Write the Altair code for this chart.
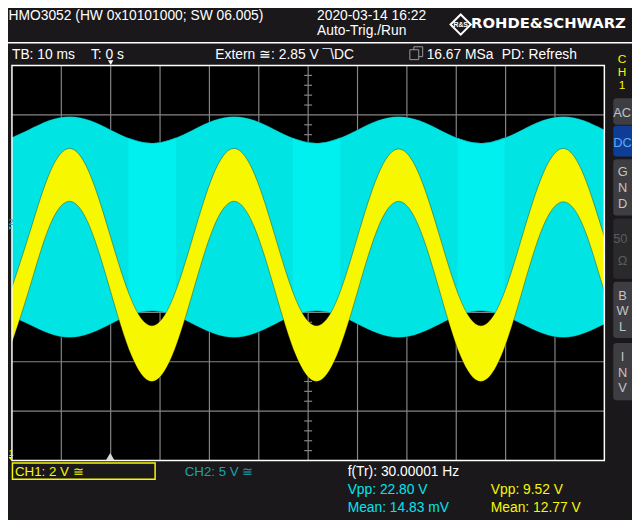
import altair as alt
import pandas as pd

# ---------------- data ----------------
# time in ms (trigger at 0 ms, 10 ms/div, screen spans -20 ... 100 ms)
t_ms = [-20.83, -16.67, -12.5, -8.33, -4.17, 0.0, 4.17, 8.33, 12.5, 16.67,
        20.83, 25.0, 29.17, 33.33, 37.5, 41.67, 45.83, 50.0, 54.17, 58.33,
        62.5, 66.67, 70.83, 75.0, 79.17, 83.33, 87.5, 91.67, 95.83, 100.0, 104.17]
# CH1 (yellow, 2 V/div) band edges, divisions from screen centre
ch1_top = [-0.74, 0.53, 1.79, 2.32, 1.79, 0.52, -0.74, -1.27,
           -0.74, 0.53, 1.80, 2.32, 1.79, 0.53, -0.74, -1.27,
           -0.75, 0.53, 1.79, 2.31, 1.79, 0.53, -0.74, -1.27,
           -0.74, 0.53, 1.79, 2.32, 1.78, 0.53, -0.74]
ch1_bot = [-1.87, -0.58, 0.72, 1.25, 0.72, -0.58, -1.87, -2.40,
           -1.87, -0.58, 0.72, 1.25, 0.71, -0.58, -1.87, -2.40,
           -1.87, -0.58, 0.72, 1.25, 0.72, -0.58, -1.88, -2.40,
           -1.87, -0.58, 0.72, 1.24, 0.72, -0.58, -1.87]
# CH2 (cyan, 5 V/div) envelope
ch2_top = [2.51, 2.70, 2.89, 2.97, 2.89, 2.70, 2.51, 2.43,
           2.51, 2.70, 2.89, 2.97, 2.89, 2.70, 2.51, 2.43,
           2.51, 2.70, 2.89, 2.97, 2.89, 2.70, 2.51, 2.43,
           2.51, 2.70, 2.89, 2.97, 2.89, 2.70, 2.51]
ch2_bot = [-1.05, -1.24, -1.43, -1.51, -1.43, -1.24, -1.05, -0.97,
           -1.05, -1.24, -1.43, -1.51, -1.43, -1.24, -1.05, -0.97,
           -1.05, -1.24, -1.43, -1.51, -1.43, -1.24, -1.05, -0.97,
           -1.05, -1.24, -1.43, -1.51, -1.43, -1.24, -1.05]
# brighter cyan stripes (display refresh bands)
stripe_t = [3.6, 6.0, 8.33, 10.7, 13.2,
            36.9, 39.3, 41.67, 44.0, 46.5,
            70.3, 72.6, 75.0, 77.3, 79.8]
stripe_top = [2.53, 2.46, 2.43, 2.46, 2.54,
              2.53, 2.46, 2.43, 2.46, 2.54,
              2.53, 2.46, 2.43, 2.46, 2.54]
stripe_bot = [-1.07, -1.00, -0.97, -1.00, -1.08,
              -1.07, -1.00, -0.97, -1.00, -1.08,
              -1.07, -1.00, -0.97, -1.00, -1.08]
stripe_id = [1] * 5 + [2] * 5 + [3] * 5

grid_x = [-10, 0, 10, 20, 30, 40, 50, 60, 70, 80, 90]
grid_y = [-3, -2, -1, 0, 1, 2, 3]
minor_y = [round(i * 0.2, 1) for i in range(-19, 20) if i % 5 != 0]
minor_x = [-20 + 2 * i for i in range(1, 60) if i % 5 != 0]

header_left = "HMO3052 (HW 0x10101000; SW 06.005)"
header_date = "2020-03-14 16:22"
header_mode = "Auto-Trig./Run"
brand = "ROHDE&SCHWARZ"
row2 = ["TB: 10 ms", "T: 0 s", "Extern \u2245: 2.85 V \u00af\\DC", "16.67 MSa", "PD: Refresh"]
ch_labels = ["CH1: 2 V \u2245", "CH2: 5 V \u2245"]
meas_freq = "f(Tr): 30.00001 Hz"
meas_ch2 = ["Vpp: 22.80 V", "Mean: 14.83 mV"]
meas_ch1 = ["Vpp: 9.52 V", "Mean: 12.77 V"]
side_letters = ["C", "H", "1"]

# ---------------- styling ----------------
BG = "#1b181c"
YEL = "#f7f700"
CYN = "#00e4e4"
CYN_B = "#00f0f0"
TEAL = "#17a4a8"
GRID = "#858585"
FONT = "Liberation Sans"
X0, Y0 = 12, 63  # page position of plot origin

xsc = alt.Scale(domain=[-20, 100], nice=False, zero=False)
ysc = alt.Scale(domain=[-4, 4], nice=False, zero=False)

one = pd.DataFrame({"k": [0]})
trace = pd.DataFrame({"t": t_ms, "y1u": ch1_top, "y1l": ch1_bot,
                      "y2u": ch2_top, "y2l": ch2_bot})
stripes = pd.DataFrame({"t": stripe_t, "u": stripe_top, "l": stripe_bot, "g": stripe_id})

X = alt.X("t:Q", scale=xsc, axis=None)


def txt(s, px, py, color="#ffffff", size=14, font=FONT, weight="normal", align="left"):
    return alt.Chart(one).mark_text(
        text=s, align=align, baseline="alphabetic", font=font,
        fontSize=size, fontWeight=weight, color=color
    ).encode(x=alt.value(px - X0), y=alt.value(py - Y0))


def box(x1, y1, x2, y2, fill, radius=0, stroke="", sw=1.0):
    kw = dict(fill=fill, cornerRadius=radius)
    if stroke:
        kw.update(stroke=stroke, strokeWidth=sw)
    return alt.Chart(one).mark_rect(**kw).encode(
        x=alt.value(x1 - X0), x2=alt.value(x2 - X0),
        y=alt.value(y1 - Y0), y2=alt.value(y2 - Y0))


def pt(px, py, shape, size, color, filled=True, sw=1.0):
    if filled:
        m = alt.Chart(one).mark_point(shape=shape, size=size, filled=True, color=color, opacity=1)
    else:
        m = alt.Chart(one).mark_point(shape=shape, size=size, filled=False, color=color,
                                      strokeWidth=sw, opacity=1)
    return m.encode(x=alt.value(px - X0), y=alt.value(py - Y0))


layers = []

# grid
layers.append(alt.Chart(pd.DataFrame({"gx": grid_x})).mark_rule(color=GRID, strokeWidth=1.2).encode(
    x=alt.X("gx:Q", scale=xsc, axis=None), y=alt.value(0), y2=alt.value(400)))
layers.append(alt.Chart(pd.DataFrame({"gy": grid_y})).mark_rule(color=GRID, strokeWidth=1.2).encode(
    y=alt.Y("gy:Q", scale=ysc, axis=None), x=alt.value(0), x2=alt.value(600)))
layers.append(alt.Chart(pd.DataFrame({"my": minor_y})).mark_rule(color=GRID, strokeWidth=1.2).encode(
    y=alt.Y("my:Q", scale=ysc, axis=None), x=alt.value(296), x2=alt.value(304)))
layers.append(alt.Chart(pd.DataFrame({"mx": minor_x})).mark_rule(color=GRID, strokeWidth=1.2).encode(
    x=alt.X("mx:Q", scale=xsc, axis=None), y=alt.value(196), y2=alt.value(204)))

# CH2 cyan band
layers.append(alt.Chart(trace).mark_area(color=CYN, interpolate="natural", clip=True).encode(
    x=X, y=alt.Y("y2u:Q", scale=ysc, axis=None), y2="y2l:Q"))
layers.append(alt.Chart(stripes).mark_area(color=CYN_B, interpolate="natural", clip=True).encode(
    x=X, y=alt.Y("u:Q", scale=ysc, axis=None), y2="l:Q", detail="g:N"))
for f in ["y2u", "y2l"]:
    layers.append(alt.Chart(trace).mark_line(color="#000000", strokeWidth=0.9, opacity=0.3,
                                             interpolate="natural", clip=True).encode(
        x=X, y=alt.Y(f"{f}:Q", scale=ysc, axis=None)))

# CH1 yellow band
layers.append(alt.Chart(trace).mark_area(color=YEL, interpolate="natural", clip=True).encode(
    x=X, y=alt.Y("y1u:Q", scale=ysc, axis=None), y2="y1l:Q"))
for f in ["y1u", "y1l"]:
    layers.append(alt.Chart(trace).mark_line(color="#000000", strokeWidth=0.8, opacity=0.4,
                                             interpolate="natural", clip=True).encode(
        x=X, y=alt.Y(f"{f}:Q", scale=ysc, axis=None)))

# plot border
layers.append(alt.Chart(one).mark_rect(fillOpacity=0, stroke="#ffffff", strokeWidth=1.5).encode(
    x=alt.value(0), x2=alt.value(600), y=alt.value(0), y2=alt.value(400)))

# header
layers.append(txt(header_left, 8.5, 17))
layers.append(txt(header_date, 321, 17))
layers.append(txt(header_mode, 321, 32))
layers.append(pt(466.5, 21.5, "diamond", 420, "#ffffff", filled=False, sw=2))
layers.append(txt("R&S", 466.5, 24, size=7, weight="bold", align="center"))
layers.append(txt(brand, 477, 25, size=15, font="DejaVu Sans", weight="bold"))
layers.append(alt.Chart(one).mark_rule(color="#ffffff", strokeWidth=1.5).encode(
    x=alt.value(-12), x2=alt.value(628), y=alt.value(40 - Y0)))

# second row
layers.append(txt(row2[0], 12, 56))
layers.append(txt(row2[1], 92, 56))
layers.append(txt(row2[2], 218, 56))
layers.append(box(419, 44, 428, 54, BG, stroke="#9a9a9a", sw=1))
layers.append(box(415, 47, 424, 57, BG, stroke="#9a9a9a", sw=1))
layers.append(txt(row2[3], 432, 56))
layers.append(txt(row2[4], 508, 56))

# trigger markers
layers.append(pt(112, 60, "triangle-down", 30, "#ffffff"))
layers.append(pt(111.5, 459, "triangle-up", 70, "#d8d8d8"))
# channel markers (squeezed into the strip left of the grid)
layers.append(txt("2", 8.5, 224, color=TEAL, size=9))
layers.append(pt(10.5, 227.5, "triangle-right", 14, TEAL))
layers.append(txt("1", 8.5, 458, color=YEL, size=9))
layers.append(pt(10.5, 461, "triangle-down", 14, YEL))

# right side panel
for i, ch in enumerate(side_letters):
    layers.append(txt(ch, 630, 60 + 13.5 * i, color=YEL, size=12, align="center"))
btn = "#3e3d42"
btn_txt = "#c4c4c4"
layers.append(box(621, 96, 646, 123, btn, radius=3))
layers.append(txt("AC", 621, 115, color=btn_txt, size=13))
layers.append(box(621, 124, 646, 155, "#0f3c94", radius=3))
layers.append(txt("DC", 621, 145, color="#5aabf5", size=13))
layers.append(box(621, 158, 646, 215, btn, radius=3))
for i, ch in enumerate(["G", "N", "D"]):
    layers.append(txt(ch, 630.5, 175 + 16 * i, color=btn_txt, size=13, align="center"))
layers.append(box(621, 218, 646, 279, "#2a292c", radius=3))
layers.append(txt("50", 621, 243, color="#5c5c5c", size=13))
layers.append(txt("\u03a9", 630.5, 265, color="#5c5c5c", size=13, align="center"))
layers.append(box(621, 282, 646, 339, btn, radius=3))
for i, ch in enumerate(["B", "W", "L"]):
    layers.append(txt(ch, 630.5, 300 + 16 * i, color=btn_txt, size=13, align="center"))
layers.append(box(621, 344, 646, 402, btn, radius=3))
for i, ch in enumerate(["I", "N", "V"]):
    layers.append(txt(ch, 630.5, 362 + 16 * i, color=btn_txt, size=13, align="center"))

# bottom status area
layers.append(alt.Chart(one).mark_rect(fillOpacity=0, stroke=YEL, strokeWidth=1.5).encode(
    x=alt.value(12.5 - X0), x2=alt.value(157 - X0), y=alt.value(465.5 - Y0), y2=alt.value(482 - Y0)))
layers.append(txt(ch_labels[0], 15, 479, color=YEL, size=13.5))
layers.append(txt(ch_labels[1], 187, 479, color=TEAL, size=13.5))
layers.append(txt(meas_freq, 352, 479))
layers.append(txt(meas_ch2[0], 352, 497, color="#00e5ee"))
layers.append(txt(meas_ch2[1], 352, 515.5, color="#00e5ee"))
layers.append(txt(meas_ch1[0], 497, 497, color=YEL))
layers.append(txt(meas_ch1[1], 497, 515.5, color=YEL))

chart = alt.layer(*layers).properties(
    width=600, height=400,
    padding={"left": 4, "top": 55, "right": 28, "bottom": 57},
    autosize=alt.AutoSizeParams(type="none"),
    background=BG,
).configure_view(fill="#000000", strokeWidth=0)

chart.save("out.html", embed_options={"renderer": "svg", "actions": False})
